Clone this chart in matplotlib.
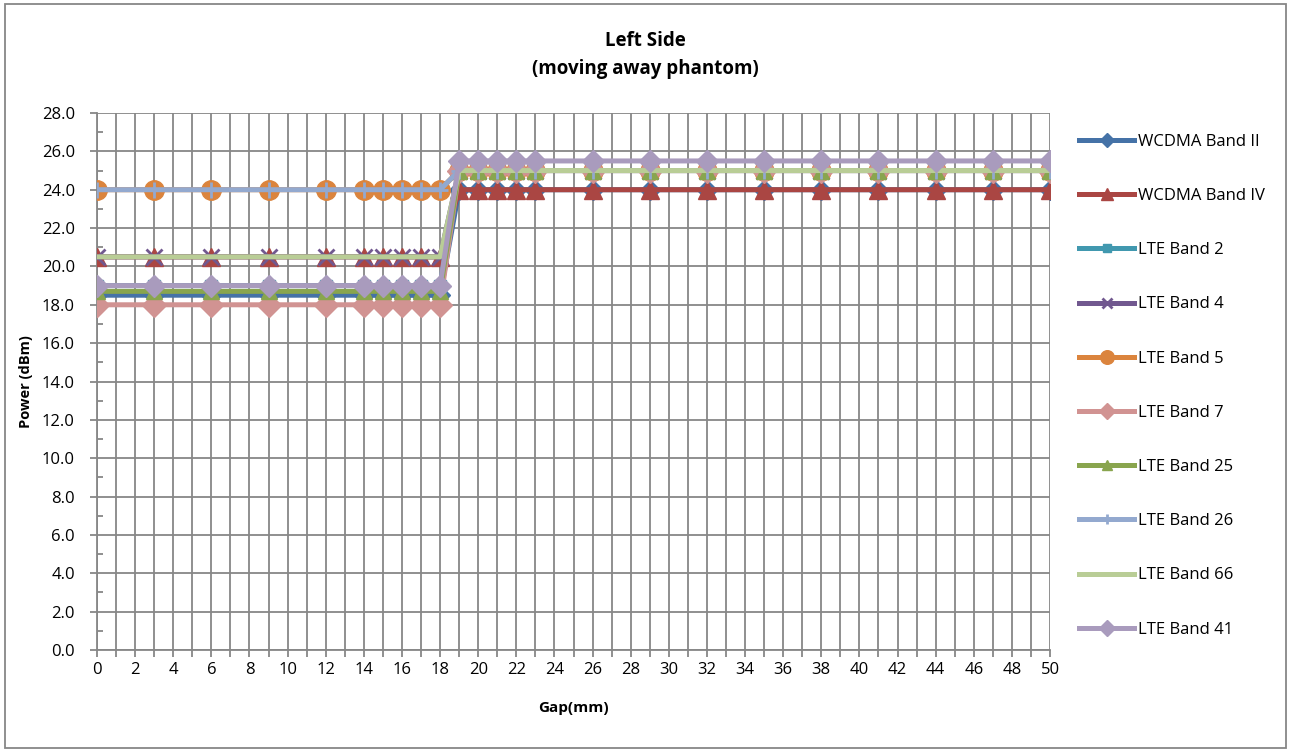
import matplotlib.pyplot as plt
from matplotlib.patches import Rectangle
from matplotlib.ticker import MultipleLocator, FormatStrFormatter

plt.rcParams['font.family'] = ['Open Sans', 'DejaVu Sans']

# gap positions (mm)
gap = [0, 3, 6, 9, 12, 14, 15, 16, 17, 18, 19, 20, 21, 22, 23,
       26, 29, 32, 35, 38, 41, 44, 47, 50]
n_near = 10  # points at gap <= 18
n_far = len(gap) - n_near

bands = ["WCDMA Band II", "WCDMA Band IV", "LTE Band 2", "LTE Band 4",
         "LTE Band 5", "LTE Band 7", "LTE Band 25", "LTE Band 26",
         "LTE Band 66", "LTE Band 41"]
near_power = [18.5, 20.5, 19.0, 20.5, 24.0, 18.0, 18.7, 24.0, 20.5, 19.0]
far_power = [24.0, 24.0, 25.0, 25.0, 25.0, 25.0, 25.0, 25.0, 25.0, 25.5]

colors = ["#4572A7", "#AA4643", "#4198AF", "#71588F", "#DB843D",
          "#D19392", "#89A54E", "#93A9CF", "#B9CD96", "#A99BBD"]
markers = ["D", "^", "s", "x", "o", "D", "^", "+", "None", "D"]
msizes = [10, 13, 9, 11, 14, 12, 11, 11, 0, 11]

fig = plt.figure(figsize=(12.9, 7.52), dpi=100)
ax = fig.add_axes([97 / 1290, 1 - 650 / 752, 953 / 1290, 537 / 752])

for i, name in enumerate(bands):
    power = [near_power[i]] * n_near + [far_power[i]] * n_far
    ax.plot(gap, power, color=colors[i], lw=3.6, marker=markers[i],
            markersize=msizes[i], markeredgecolor=colors[i],
            markeredgewidth=2 if markers[i] in ("x", "+") else 1,
            label=name, zorder=3 + i)

ax.set_xlim(0, 50)
ax.set_ylim(0, 28)
ax.xaxis.set_major_locator(MultipleLocator(2))
ax.xaxis.set_minor_locator(MultipleLocator(1))
ax.yaxis.set_major_locator(MultipleLocator(2))
ax.yaxis.set_minor_locator(MultipleLocator(1))
ax.yaxis.set_major_formatter(FormatStrFormatter('%.1f'))

grid_c = "#878787"
ax.grid(True, which='major', axis='both', color=grid_c, lw=1.3)
ax.grid(True, which='minor', axis='x', color=grid_c, lw=1.3)
ax.set_axisbelow(True)

for s in ['top', 'right']:
    ax.spines[s].set_visible(False)
for s in ['left', 'bottom']:
    ax.spines[s].set_color(grid_c)
    ax.spines[s].set_linewidth(1.3)

ax.tick_params(axis='both', which='both', color=grid_c, width=1.3, labelsize=12)
ax.tick_params(axis='x', which='both', direction='out', length=5, pad=4)
ax.tick_params(axis='y', which='major', direction='out', length=5, pad=11)
ax.tick_params(axis='y', which='minor', direction='in', length=4)

ax.set_xlabel("Gap(mm)", fontsize=11, fontweight='bold', labelpad=16)
ax.set_ylabel("Power (dBm)", fontsize=10.5, fontweight='bold', labelpad=6)

fig.text(0.5, 1 - 41 / 752, "Left Side", ha='center', va='center',
         fontsize=13.5, fontweight='bold')
fig.text(0.5, 1 - 69 / 752, "(moving away phantom)", ha='center', va='center',
         fontsize=13.5, fontweight='bold')

leg = ax.legend(loc='upper left', bbox_to_anchor=(1079 / 1290, 1 - 134 / 752),
                bbox_transform=fig.transFigure, frameon=False, fontsize=12,
                handlelength=3.3, handletextpad=0.25, labelspacing=2.29,
                markerscale=0.7, borderaxespad=0, borderpad=0)

# chart border
fig.patches.append(Rectangle((5 / 1290, 4 / 752), 1281 / 1290, 744 / 752,
                             transform=fig.transFigure, fill=False,
                             edgecolor="#878787", lw=1.3))

fig.savefig("out.png", dpi=100)
